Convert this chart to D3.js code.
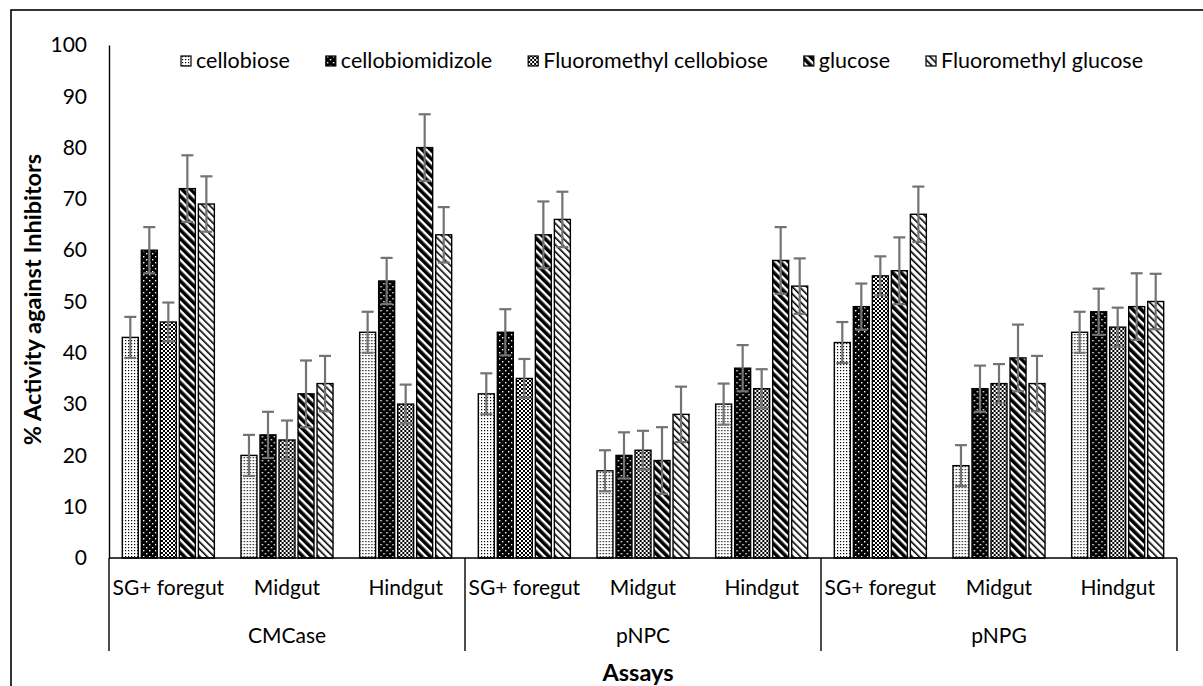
<!DOCTYPE html>
<html>
<head>
<meta charset="utf-8">
<script src="https://cdn.jsdelivr.net/npm/d3@7"></script>
<style>
  html, body { margin: 0; padding: 0; background: #fff; }
  svg text { font-family: Lato, "Open Sans", sans-serif; fill: #000; }
</style>
</head>
<body>
<svg id="chart" width="1203" height="686"></svg>
<script>
// Assays and tissues along the x axis
const assays = ["CMCase", "pNPC", "pNPG"];
const tissues = ["SG+ foregut", "Midgut", "Hindgut"];

// Inhibitor series (legend order)
const seriesNames = ["cellobiose", "cellobiomidizole", "Fluoromethyl cellobiose", "glucose", "Fluoromethyl glucose"];

// % activity per series, in order: CMCase (SG, Mid, Hind), pNPC (...), pNPG (...)
const cellobiose           = [43, 20, 44, 32, 17, 30, 42, 18, 44];
const cellobiomidizole     = [60, 24, 54, 44, 20, 37, 49, 33, 48];
const fluoroCellobiose     = [46, 23, 30, 35, 21, 33, 55, 34, 45];
const glucose              = [72, 32, 80, 63, 19, 58, 56, 39, 49];
const fluoroGlucose        = [69, 34, 63, 66, 28, 53, 67, 34, 50];

// Error bar half-widths per series
const cellobioseErr        = [4, 4, 4, 4, 4, 4, 4, 4, 4];
const cellobiomidizoleErr  = [4.5, 4.5, 4.5, 4.5, 4.5, 4.5, 4.5, 4.5, 4.5];
const fluoroCellobioseErr  = [3.8, 3.8, 3.8, 3.8, 3.8, 3.8, 3.8, 3.8, 3.8];
const glucoseErr           = [6.5, 6.5, 6.5, 6.5, 6.5, 6.5, 6.5, 6.5, 6.5];
const fluoroGlucoseErr     = [5.4, 5.4, 5.4, 5.4, 5.4, 5.4, 5.4, 5.4, 5.4];

const yTicks = [0, 10, 20, 30, 40, 50, 60, 70, 80, 90, 100];

const values = [cellobiose, cellobiomidizole, fluoroCellobiose, glucose, fluoroGlucose];
const errors = [cellobioseErr, cellobiomidizoleErr, fluoroCellobioseErr, glucoseErr, fluoroGlucoseErr];

const svg = d3.select("#chart");

// Outer chart frame
svg.append("rect")
  .attr("x", 11).attr("y", 10).attr("width", 1210).attr("height", 700)
  .attr("fill", "none").attr("stroke", "#000").attr("stroke-width", 1.6);

// ---- fill patterns ----
const defs = svg.append("defs");

// white with small black dots
const p0 = defs.append("pattern").attr("id", "pat0").attr("patternUnits", "userSpaceOnUse")
  .attr("width", 3).attr("height", 3);
p0.append("rect").attr("width", 3).attr("height", 3).attr("fill", "#fff");
p0.append("rect").attr("x", 1).attr("y", 1).attr("width", 1.2).attr("height", 1.2).attr("fill", "#000");

// black with white dots
const p1 = defs.append("pattern").attr("id", "pat1").attr("patternUnits", "userSpaceOnUse")
  .attr("width", 6).attr("height", 6);
p1.append("rect").attr("width", 6).attr("height", 6).attr("fill", "#000");
p1.append("rect").attr("x", 1).attr("y", 1).attr("width", 1.4).attr("height", 1.4).attr("fill", "#fff");
p1.append("rect").attr("x", 4).attr("y", 4).attr("width", 1.4).attr("height", 1.4).attr("fill", "#fff");

// checkerboard
const p2 = defs.append("pattern").attr("id", "pat2").attr("patternUnits", "userSpaceOnUse")
  .attr("width", 4).attr("height", 4);
p2.append("rect").attr("width", 4).attr("height", 4).attr("fill", "#fff");
p2.append("rect").attr("x", 0).attr("y", 0).attr("width", 2).attr("height", 2).attr("fill", "#000");
p2.append("rect").attr("x", 2).attr("y", 2).attr("width", 2).attr("height", 2).attr("fill", "#000");

// wide dark downward diagonal
const p3 = defs.append("pattern").attr("id", "pat3").attr("patternUnits", "userSpaceOnUse")
  .attr("width", 6).attr("height", 6).attr("patternTransform", "rotate(-45)");
p3.append("rect").attr("width", 6).attr("height", 6).attr("fill", "#fff");
p3.append("rect").attr("x", 0).attr("y", 0).attr("width", 3.6).attr("height", 6).attr("fill", "#000");

// light downward diagonal
const p4 = defs.append("pattern").attr("id", "pat4").attr("patternUnits", "userSpaceOnUse")
  .attr("width", 5).attr("height", 5).attr("patternTransform", "rotate(-45)");
p4.append("rect").attr("width", 5).attr("height", 5).attr("fill", "#fff");
p4.append("rect").attr("x", 0).attr("y", 0).attr("width", 1.6).attr("height", 5).attr("fill", "#000");

const fills = ["url(#pat0)", "url(#pat1)", "url(#pat2)", "url(#pat3)", "url(#pat4)"];

// ---- scales ----
const plotLeft = 109, plotRight = 1177, plotTop = 45, plotBottom = 558;

const categories = [];
assays.forEach(a => tissues.forEach(t => categories.push(a + "|" + t)));

const x0 = d3.scaleBand().domain(categories).range([plotLeft, plotRight]).padding(0);
const x1 = d3.scaleBand().domain(seriesNames).range([0, x0.bandwidth()])
  .paddingInner(0.16).paddingOuter(0.7);
const y = d3.scaleLinear().domain([0, 100]).range([plotBottom, plotTop]);

// ---- y axis ----
const yAxis = d3.axisLeft(y).tickValues(yTicks).tickSize(0).tickPadding(22);
const gy = svg.append("g").attr("transform", `translate(${plotLeft},0)`).call(yAxis);
gy.select(".domain").attr("stroke", "#000").attr("stroke-width", 1.4);
gy.selectAll("text").attr("font-size", 21).attr("font-family", "Lato, sans-serif");

// y axis title
svg.append("text")
  .attr("transform", `translate(41,${(plotTop + plotBottom) / 2 - 2}) rotate(-90)`)
  .attr("text-anchor", "middle")
  .attr("font-size", 23.5).attr("font-weight", "bold")
  .text("% Activity against Inhibitors");

// ---- bars ----
const catGroups = svg.append("g").selectAll("g")
  .data(categories)
  .join("g")
  .attr("transform", d => `translate(${x0(d)},0)`);

catGroups.each(function (cat, ci) {
  const g = d3.select(this);
  seriesNames.forEach((s, si) => {
    const v = values[si][ci];
    g.append("rect")
      .attr("x", x1(s))
      .attr("y", y(v))
      .attr("width", x1.bandwidth())
      .attr("height", y(0) - y(v))
      .attr("fill", fills[si])
      .attr("stroke", "#000").attr("stroke-width", 1.4);
  });
  seriesNames.forEach((s, si) => {
    const v = values[si][ci], e = errors[si][ci];
    const cx = x1(s) + x1.bandwidth() / 2;
    const eg = g.append("g").attr("stroke", "#737373").attr("stroke-width", 2.2);
    eg.append("line").attr("x1", cx).attr("x2", cx).attr("y1", y(v + e)).attr("y2", y(v - e));
    eg.append("line").attr("x1", cx - 6).attr("x2", cx + 6).attr("y1", y(v + e)).attr("y2", y(v + e));
    eg.append("line").attr("x1", cx - 6).attr("x2", cx + 6).attr("y1", y(v - e)).attr("y2", y(v - e));
  });
});

// ---- x axis (two-level categories) ----
svg.append("line")
  .attr("x1", plotLeft).attr("x2", plotRight).attr("y1", y(0)).attr("y2", y(0))
  .attr("stroke", "#000").attr("stroke-width", 1.4);

// tissue labels
svg.append("g").selectAll("text")
  .data(categories)
  .join("text")
  .attr("x", d => x0(d) + x0.bandwidth() / 2)
  .attr("y", 595)
  .attr("text-anchor", "middle")
  .attr("font-size", 21)
  .text(d => d.split("|")[1]);

// assay group labels and separators
const xa = d3.scaleBand().domain(assays).range([plotLeft, plotRight]);
svg.append("g").selectAll("text")
  .data(assays)
  .join("text")
  .attr("x", d => xa(d) + xa.bandwidth() / 2)
  .attr("y", 643)
  .attr("text-anchor", "middle")
  .attr("font-size", 21)
  .text(d => d);

const sepX = assays.map(a => xa(a)).concat([plotRight]);
svg.append("g").selectAll("line")
  .data(sepX)
  .join("line")
  .attr("x1", d => d).attr("x2", d => d)
  .attr("y1", y(0)).attr("y2", 651)
  .attr("stroke", "#000").attr("stroke-width", 1.4);

// x axis title
svg.append("text")
  .attr("x", (plotLeft + plotRight) / 2 - 5)
  .attr("y", 681)
  .attr("text-anchor", "middle")
  .attr("font-size", 23.5).attr("font-weight", "bold")
  .text("Assays");

// ---- legend ----
const legend = svg.append("g").attr("transform", "translate(181,61)");
let lx = 0;
seriesNames.forEach((s, si) => {
  const item = legend.append("g").attr("transform", `translate(${lx},0)`);
  item.append("rect").attr("x", 0).attr("y", -5).attr("width", 10).attr("height", 10)
    .attr("fill", fills[si]).attr("stroke", "#000").attr("stroke-width", 1.2);
  const t = item.append("text").attr("x", 15).attr("y", 7).attr("font-size", 21.5).text(s);
  lx += 15 + t.node().getComputedTextLength() + 36;
});
</script>
</body>
</html>
